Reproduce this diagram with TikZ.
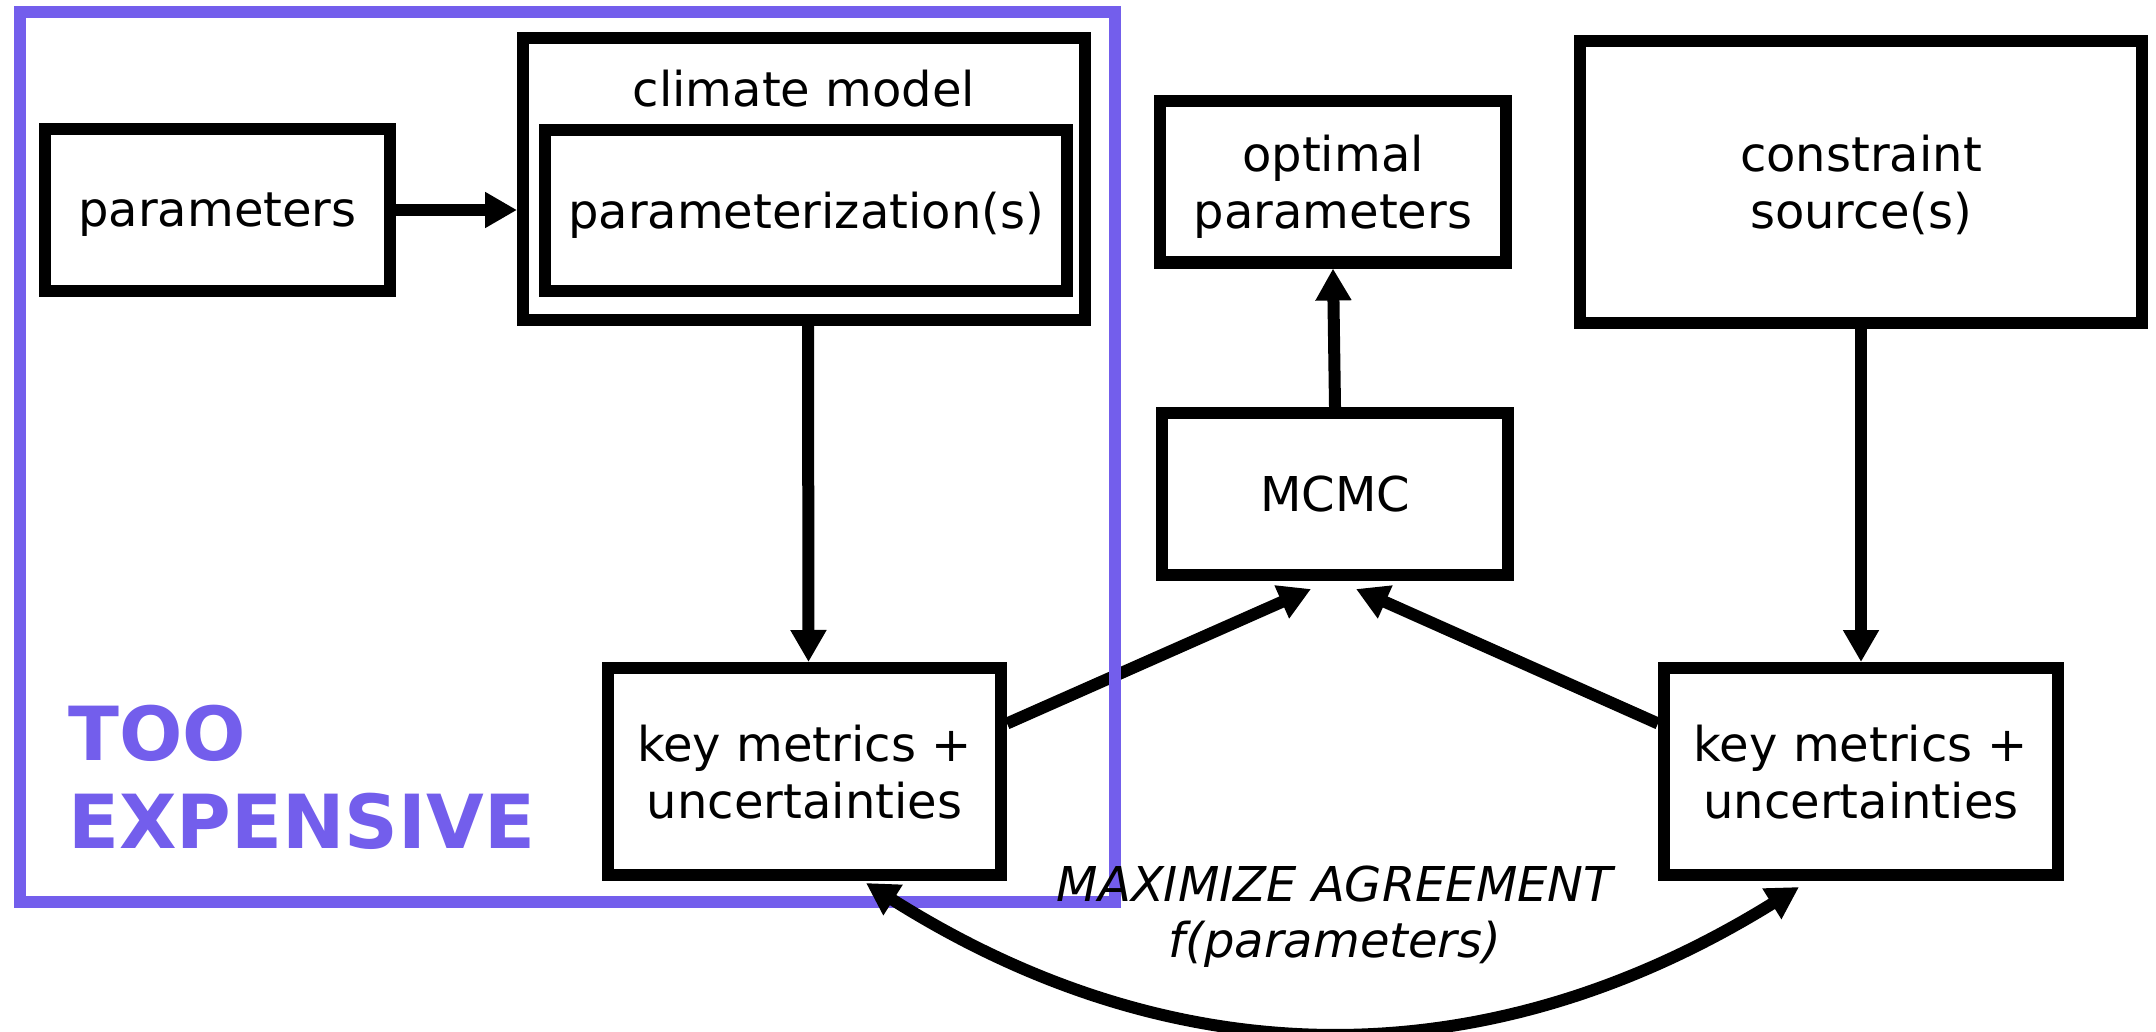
\documentclass[tikz,border=0pt]{standalone}
\usepackage{fontspec}
\setmainfont{DejaVu Sans}
\usetikzlibrary{arrows.meta}
\definecolor{expurple}{RGB}{115,94,236}
\begin{document}
\begin{tikzpicture}[x=0.5pt,y=-0.5pt,
  box/.style={draw=black, line width=6pt, rectangle, inner sep=0pt, align=center,
    text depth=0pt, font=\fontsize{24}{28.5}\selectfont},
  conn/.style={line width=6pt, -{Triangle[length=16pt,width=17pt]}},
  lbl/.style={inner sep=0pt, align=center, font=\fontsize{24}{28}\selectfont}]
\path[use as bounding box, fill=white] (0,0) rectangle (2156,1032);

% boxes
\node[box, minimum width=172.5pt, minimum height=81pt] (params) at (217.5,210) {parameters};
\node[box, minimum width=281pt, minimum height=141pt] (climate) at (804,179) {};
\node[lbl, anchor=base] (cmlabel) at (804,107) {climate model};
\node[box, minimum width=261pt, minimum height=80.5pt] (paramz) at (806,210.5) {parameterization(s)};
\node[box, minimum width=196.5pt, minimum height=103.5pt] (keyL) at (804.5,771.5) {key metrics +\\uncertainties};
\node[box, minimum width=173pt, minimum height=80.5pt] (opt) at (1333,182) {optimal\\parameters};
\node[box, minimum width=173pt, minimum height=81pt] (mcmc) at (1335,494) {MCMC};
\node[box, minimum width=281pt, minimum height=141pt] (constraint) at (1861,182) {constraint\\source(s)};
\node[box, minimum width=197pt, minimum height=103.5pt] (keyR) at (1861,771.5) {key metrics +\\uncertainties};

% free ends
\coordinate (mL) at (1311,589);
\coordinate (mR) at (1356,589);
\coordinate (cL) at (866,883);
\coordinate (cR) at (1799,887);

% connectors
\draw[conn] (params.east) -- (params.east -| climate.west);
\draw[conn] ([xshift=2pt]climate.south) -- ([xshift=2pt]keyL.north);
\draw[conn] (mcmc.north) -- (opt.south);
\draw[conn] (constraint.south) -- (keyR.north);
\draw[conn] ([yshift=24pt]keyL.east) -- (mL);
\draw[conn] ([yshift=24pt]keyR.west) -- (mR);

% too expensive frame
\draw[expurple, line width=6pt] (20,12) rectangle (1115,902);
\node[anchor=south west, inner sep=0pt, align=left, text=expurple,
  font=\fontsize{37.3}{44}\selectfont\bfseries] (tooexp) at (68,850) {TOO\\EXPENSIVE};

% bottom curve
\draw[line width=6pt, {Triangle[length=16pt,width=17pt]}-{Triangle[length=16pt,width=17pt]}]
  (cL) .. controls (1176.3,1079) and (1487.3,1080.3) .. (cR);
\node[lbl, font=\fontsize{24}{28}\selectfont\itshape] (maxlbl) at (1335,917) {MAXIMIZE AGREEMENT\\f(parameters)};
\end{tikzpicture}
\end{document}
